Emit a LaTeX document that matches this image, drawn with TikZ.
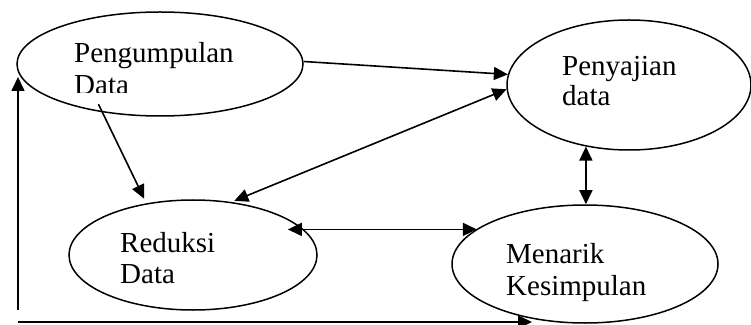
\documentclass[tikz,border=0pt]{standalone}
\usepackage{fontspec}
\setmainfont{Liberation Serif}
\usetikzlibrary{arrows.meta,shapes.geometric,calc}
\tikzset{
  proc/.style={ellipse, draw, line width=1.5pt, inner sep=0pt},
  lbl/.style={anchor=base west, inner sep=0pt, font=\fontsize{29}{32}\selectfont},
  tip/.style={Triangle[length=14pt,width=13pt]},
  arr/.style={-{Triangle[length=14pt,width=13pt]}, line width=1.6pt},
  dbl/.style={{Triangle[length=14pt,width=13pt]}-{Triangle[length=14pt,width=13pt]}, line width=1.6pt}
}
\begin{document}
\begin{tikzpicture}[x=1pt,y=1pt]
\useasboundingbox (0,0) rectangle (751,324);
\fill[white] (0,0) rectangle (751,324);
% ellipses
\node[proc, minimum width=286pt, minimum height=104pt] (A) at (160,260) {};
\node[proc, minimum width=244pt, minimum height=130pt] (B) at (629,239) {};
\node[proc, minimum width=248pt, minimum height=110pt] (C) at (193,69) {};
\node[proc, minimum width=266pt, minimum height=118pt] (D) at (585,60) {};
% texts
\node[lbl] (tA1) at (74,261) {Pengumpulan};
\begin{scope}
\clip (60,231.3) rectangle (300,260);
\node[lbl] (tA2) at (74,229) {Data};
\end{scope}
\node[lbl] (tB1) at (562,248) {Penyajian};
\node[lbl] (tB2) at (562,218) {data};
\node[lbl] (tC1) at (120,72) {Reduksi};
\node[lbl] (tC2) at (120,41) {Data};
\node[lbl] (tD1) at (506,61) {Menarik};
\node[lbl] (tD2) at (506,29) {Kesimpulan};
% connectors
\draw[arr] (A.1) -- (B.175);
\draw[arr, shorten <=-9pt, shorten >=5pt] (A.220) -- (C.132);
\draw[dbl, shorten >=3pt] (B.182) -- (C.54);
\draw[dbl] (B.235) -- (B.235 |- D.north);
\draw[dbl] ([xshift=-16pt]C.13) -- (D.162 |- C.13);
% feedback loop
\coordinate (l1) at (18,14);
\coordinate (l2) at (18,2);
\coordinate (l3) at ([yshift=-13pt]A.west);
\draw[arr] (l1) -- (l1 |- l3);
\draw[arr] (l2) -- (l2 -| D.226);
\end{tikzpicture}
\end{document}
